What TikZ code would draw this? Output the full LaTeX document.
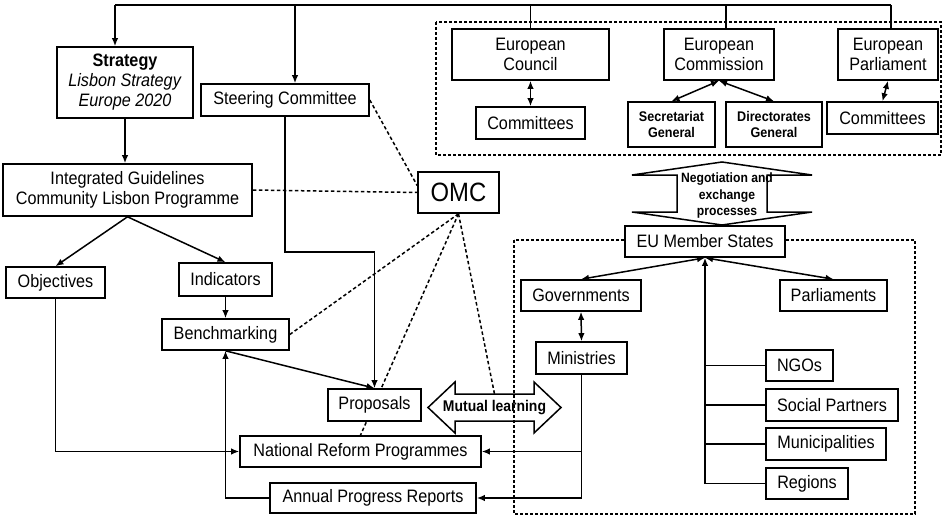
\documentclass[tikz,border=0pt]{standalone}
\usepackage{fontspec}
\setmainfont{Liberation Sans}[FakeStretch=0.9]
\usetikzlibrary{arrows.meta,backgrounds}

\begin{document}
\begin{tikzpicture}[x=1pt,y=-1pt,
    font=\fontsize{18}{20}\selectfont,
    >={Latex[length=8pt,width=6.5pt]},
    box/.style={draw,fill=white,line width=1.6pt,inner sep=1pt,align=center},
    subbox/.style={font=\fontsize{14}{16}\selectfont\bfseries},
    conn/.style={line width=1.5pt},
    omclink/.style={line width=1.5pt,dash pattern=on 3.5pt off 2.5pt},
    dashbox/.style={line width=1.3pt,dash pattern=on 3pt off 2pt},
    bigarrow/.style={line width=1.5pt,line join=miter}]
\useasboundingbox (0,0) rectangle (947,516);

% EU institutions
\node[box,minimum width=157pt,minimum height=51pt] (council) at (530.5,54.5) {European\\Council};
\node[box,minimum width=110pt,minimum height=51pt] (commis) at (719,54.5) {European\\Commission};
\node[box,minimum width=100pt,minimum height=51pt] (parl) at (888,54.5) {European\\Parliament};
\node[box,minimum width=109pt,minimum height=32pt] (comc) at (530.5,123) {Committees};
\node[box,subbox,minimum width=87pt,minimum height=45pt] (secr) at (671.5,124.5) {Secretariat\\General};
\node[box,subbox,minimum width=96pt,minimum height=45pt] (dirg) at (774,124.5) {Directorates\\General};
\node[box,minimum width=111pt,minimum height=32pt] (comp) at (882.5,118) {Committees};

% OMC side
\node[box,minimum width=136pt,minimum height=71pt] (strat) at (125,82.5) {\textbf{Strategy}\\\textit{Lisbon Strategy}\\\textit{Europe 2020}};
\node[box,minimum width=168pt,minimum height=32pt] (steer) at (285,100) {Steering Committee};
\node[box,minimum width=249pt,minimum height=52pt] (integ) at (127.5,190) {Integrated Guidelines\\Community Lisbon Programme};
\node[box,font=\fontsize{26.5}{28}\selectfont,minimum width=81pt,minimum height=41pt] (omc) at (458.5,192.5) {OMC};
\node[box,minimum width=99pt,minimum height=31pt] (obj) at (55.5,282.5) {Objectives};
\node[box,minimum width=93pt,minimum height=33pt] (ind) at (225.5,279.5) {Indicators};
\node[box,minimum width=127pt,minimum height=31pt] (bench) at (225.5,334.5) {Benchmarking};
\node[box,minimum width=93pt,minimum height=32pt] (prop) at (374.5,405) {Proposals};
\node[box,minimum width=241pt,minimum height=31pt] (nrp) at (360.5,451.5) {National Reform Programmes};
\node[box,minimum width=206pt,minimum height=30pt] (apr) at (373,498) {Annual Progress Reports};

% member states
\node[box,minimum width=160pt,minimum height=31pt] (eums) at (705,241.5) {EU Member States};
\node[box,minimum width=120pt,minimum height=31pt] (gov) at (581,295.5) {Governments};
\node[box,minimum width=107pt,minimum height=31pt] (parls) at (833.5,295.5) {Parliaments};
\node[box,minimum width=91pt,minimum height=32pt] (min) at (581.5,358) {Ministries};
\node[box,minimum width=67pt,minimum height=31pt] (ngo) at (799.5,365.5) {NGOs};
\node[box,minimum width=132pt,minimum height=32pt] (soc) at (832,405) {Social Partners};
\node[box,minimum width=120pt,minimum height=32pt] (mun) at (826,444) {Municipalities};
\node[box,minimum width=82pt,minimum height=31pt] (reg) at (807,483.5) {Regions};

% big arrows
\node[font=\fontsize{13.5}{16.5}\selectfont\bfseries,align=center] (negot) at (727,196) {Negotiation and\\exchange\\processes};
\draw[bigarrow,shift={(722,193.5)}] (0,-31.5) -- (90,-18.5) -- (45,-18.5) -- (45,18.5) -- (90,18.5)
    -- (0,31.5) -- (-90,18.5) -- (-45,18.5) -- (-45,-18.5) -- (-90,-18.5) -- cycle;
\node[font=\fontsize{15.5}{18}\selectfont\bfseries] (mutual) at (494.5,407.5) {Mutual learning};
\draw[bigarrow,shift={(mutual.center)}] (-66.5,0) -- (-39.5,-25.5) -- (-39.5,-13.5) -- coordinate (mtop) (39.5,-13.5)
    -- (39.5,-25.5) -- (66.5,0) -- (39.5,25.5) -- (39.5,13.5) -- (-39.5,13.5) -- (-39.5,25.5) -- cycle;

\begin{scope}[on background layer]
% frames
\draw[dashbox] (436,22) rectangle (941,155);
\draw[dashbox] (514,240) rectangle (915,514);

% top feed
\coordinate (tl) at (115,5);
\coordinate (ts) at (295,5);
\coordinate (tc) at (726,5);
\coordinate (tr) at (891,5);
\draw[conn] (tl) -- (tr);
\draw[conn,->] (tl) -- (tl |- strat.north);
\draw[conn,->] (ts) -- (ts |- steer.north);
\draw[conn] (council.north |- tl) -- (council.north);
\draw[conn] (tc) -- (tc |- commis.north);
\draw[conn] (tr) -- (tr |- parl.north);

\draw[conn,<->] (council.south) -- (comc.north);
\draw[conn,<->] (commis.south) -- (secr.north);
\draw[conn,<->] (commis.south) -- (dirg.north);
\draw[conn,<->] (parl.south) -- (comp.north);

% OMC process
\draw[conn,->] (strat.south) -- (strat.south |- integ.north);
\draw[conn,->] (integ.south) -- (obj.north);
\draw[conn,->] (integ.south) -- (ind.north);
\draw[conn,->] (ind.south) -- (bench.north);
\draw[conn,->] (steer.south) -- ++(0,135) -| (prop.north);
\draw[conn,->] (bench.south) -- (prop.north);
\draw[conn,->] (obj.south) |- (nrp.west);
\draw[conn,->] (apr.west) -| (bench.south);

\draw[omclink] (integ.east) -- (omc.west);
\draw[omclink] (steer.east) -- ([yshift=7pt]omc.west);
\draw[omclink] (omc.south) -- (bench.east);
\draw[omclink] (omc.south) -- (nrp.north);
\draw[omclink] (omc.south) -- (mtop);

% member states
\draw[conn,<->] (eums.south) -- (gov.north);
\draw[conn,<->] (eums.south) -- (parls.north);
\draw[conn,<->] (gov.south) -- (min.north);
\draw[conn,->] (reg.west) -| (eums.south);
\foreach \n in {ngo,soc,mun}
  \draw[conn] (\n.west) -- (\n.west -| eums.south);
\draw[conn,->] (min.south) |- (apr.east);
\draw[conn,->] (min.south |- nrp.east) -- (nrp.east);
\end{scope}
\end{tikzpicture}
\end{document}
